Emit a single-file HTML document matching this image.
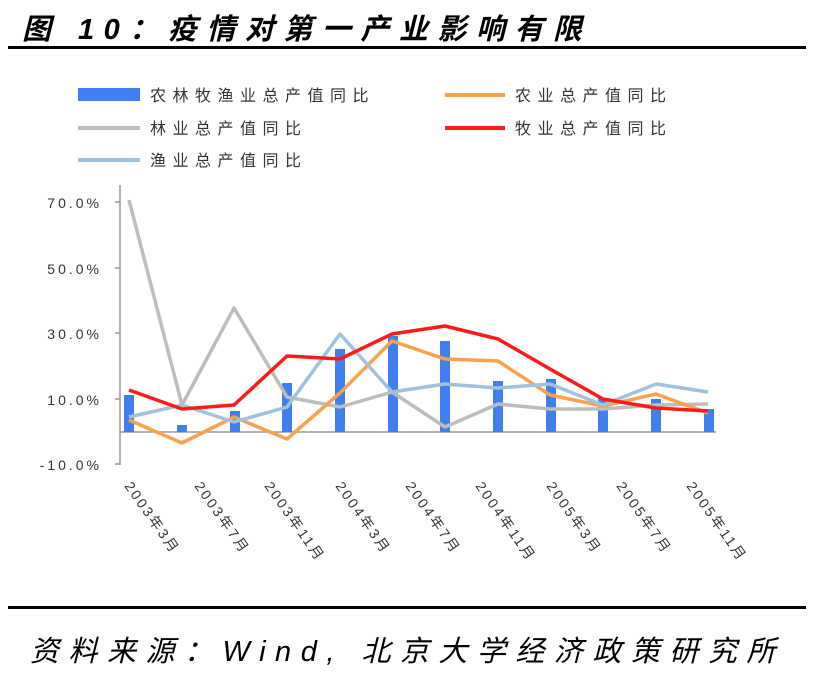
<!DOCTYPE html>
<html><head><meta charset="utf-8"><style>
body{margin:0;background:#fff;width:814px;height:690px;overflow:hidden;font-family:"Liberation Sans","Noto Sans CJK SC",sans-serif}
</style></head><body>
<svg width="814" height="690" xmlns="http://www.w3.org/2000/svg" font-family="Liberation Sans, Noto Sans CJK SC, sans-serif">
<text x="22" y="39" font-size="29" font-weight="bold" font-style="italic" fill="#000" letter-spacing="9.5">图 10：疫情对第一产业影响有限</text>
<rect x="8" y="46" width="798" height="3" fill="#000"/>
<rect x="8" y="606" width="798" height="3" fill="#000"/>
<text x="30" y="661" font-size="29" font-style="italic" fill="#000" letter-spacing="9.5">资料来源：Wind, 北京大学经济政策研究所</text>
<!-- legend -->
<g font-size="16" fill="#333" letter-spacing="6.5">
<rect x="78" y="88" width="62" height="13" fill="#3f7ff0"/>
<text x="150" y="101">农林牧渔业总产值同比</text>
<line x1="445" y1="95" x2="505" y2="95" stroke="#f7a24f" stroke-width="4"/>
<text x="515" y="101">农业总产值同比</text>
<line x1="78" y1="128" x2="140" y2="128" stroke="#bdbdbd" stroke-width="4"/>
<text x="150" y="134">林业总产值同比</text>
<line x1="445" y1="128" x2="505" y2="128" stroke="#ff1a1a" stroke-width="4"/>
<text x="515" y="134">牧业总产值同比</text>
<line x1="78" y1="160" x2="140" y2="160" stroke="#9fc3dc" stroke-width="4"/>
<text x="150" y="166">渔业总产值同比</text>
</g>
<!-- axes -->
<line x1="120" y1="185" x2="120" y2="465" stroke="#999" stroke-width="1.5"/>
<g stroke="#999" stroke-width="1.5">
<line x1="115" y1="202" x2="120" y2="202"/><line x1="115" y1="268" x2="120" y2="268"/>
<line x1="115" y1="333" x2="120" y2="333"/><line x1="115" y1="399" x2="120" y2="399"/>
<line x1="115" y1="464" x2="120" y2="464"/>
<line x1="120" y1="432" x2="716" y2="432"/>
</g>
<g font-size="14" fill="#333" text-anchor="end" letter-spacing="3">
<text x="102" y="208">70.0%</text><text x="102" y="274">50.0%</text>
<text x="102" y="339">30.0%</text><text x="102" y="405">10.0%</text>
<text x="102" y="470">-10.0%</text>
</g>
<!-- bars -->
<g fill="#3f7ff0">
<rect x="124" y="395" width="10" height="37"/><rect x="177" y="425" width="10" height="7"/>
<rect x="230" y="411" width="10" height="21"/><rect x="282" y="383" width="10" height="49"/>
<rect x="335" y="349" width="10" height="83"/><rect x="388" y="336" width="10" height="96"/>
<rect x="440" y="341" width="10" height="91"/><rect x="493" y="381" width="10" height="51"/>
<rect x="546" y="379" width="10" height="53"/><rect x="598" y="398" width="10" height="34"/>
<rect x="651" y="399" width="10" height="33"/><rect x="704" y="409" width="10" height="23"/>
</g>
<g fill="none" stroke-width="3.5" stroke-linejoin="round">
<polyline stroke="#bdbdbd" points="129,200 182,405 234,308 287,397 340,407 392,392 445,427 498,404 550,409 603,409 656,405 708,404"/>
<polyline stroke="#f7a24f" points="129,420 182,443 234,417 287,439 340,393 392,341 445,359 498,361 550,395 603,406 656,394 708,413"/>
<polyline stroke="#9fc3dc" points="129,417 182,405 234,422 287,407 340,334 392,392 445,384 498,388 550,384 603,405 656,384 708,392"/>
<polyline stroke="#ff1a1a" points="129,390 182,409 234,405 287,356 340,359 392,334 445,326 498,339 550,369 603,399 656,408 708,411"/>
</g>
<!-- x labels -->
<g font-size="14" fill="#333" letter-spacing="2.5">
<text transform="translate(124,486) rotate(55)">2003年3月</text>
<text transform="translate(194,486) rotate(55)">2003年7月</text>
<text transform="translate(264,486) rotate(55)">2003年11月</text>
<text transform="translate(335,486) rotate(55)">2004年3月</text>
<text transform="translate(405,486) rotate(55)">2004年7月</text>
<text transform="translate(475,486) rotate(55)">2004年11月</text>
<text transform="translate(546,486) rotate(55)">2005年3月</text>
<text transform="translate(616,486) rotate(55)">2005年7月</text>
<text transform="translate(686,486) rotate(55)">2005年11月</text>
</g>
</svg>
</body></html>
